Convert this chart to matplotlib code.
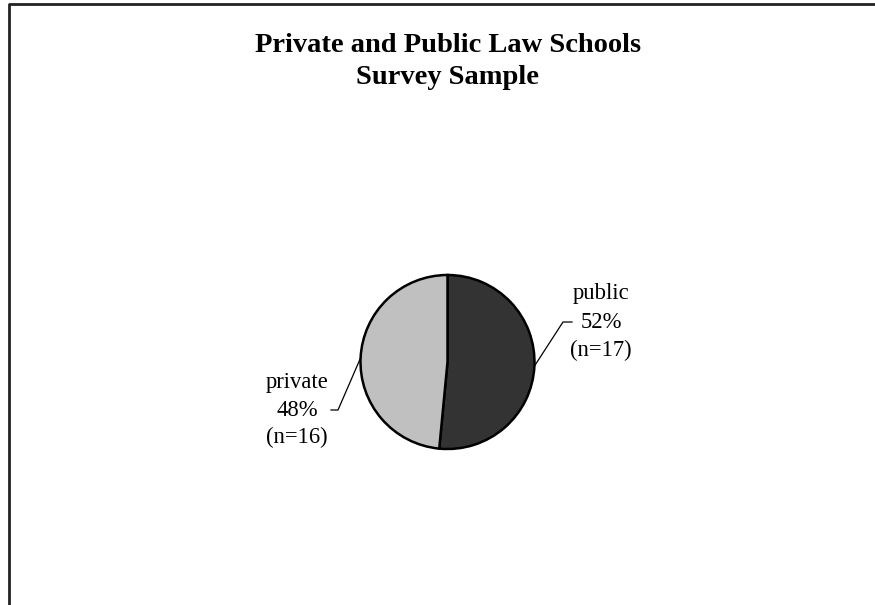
import numpy as np
import matplotlib
matplotlib.use("Agg")
import matplotlib.pyplot as plt

# ---- data ----
categories = ["public", "private"]
counts = [17, 16]
percent_labels = ["52%", "48%"]
title_lines = ["Private and Public Law Schools", "Survey Sample"]

# ---- style / layout ----
colors = ["#333333", "#C0C0C0"]
W, H = 875, 605
plt.rcParams["font.family"] = ["Liberation Serif", "DejaVu Serif"]

fig = plt.figure(figsize=(W / 100, H / 100), dpi=100)
ax = fig.add_axes([0, 0, 1, 1])

def py(y):  # pixel row -> data y
    return H - y

center = (447.5, py(362))
radius = 87
wedges, _ = ax.pie(counts, colors=colors, startangle=90, counterclock=False,
                   center=center, radius=radius, frame=True,
                   wedgeprops=dict(edgecolor="black", linewidth=1.8))
ax.set_xlim(0, W)
ax.set_ylim(0, H)
ax.axis("off")

# border (partial frame)
ax.plot([8.5, 8.5, W + 5], [-5, py(3.5), py(3.5)], color="#222222", lw=2,
        clip_on=False, solid_capstyle="butt")

# title
for i, line in enumerate(title_lines):
    ax.text(448, py(52 + 32 * i), line, ha="center", va="baseline",
            fontsize=20.5, fontweight="bold")

# labels with leader lines
label_layout = {
    "public": dict(x=601, base=299, step=28.5, elbow=(563, 322), end=(572, 322)),
    "private": dict(x=297, base=388, step=27.5, elbow=(338, 410), end=(331, 410)),
}
for w, cat, n, pct in zip(wedges, categories, counts, percent_labels):
    lay = label_layout[cat]
    lines = [cat, pct, f"(n={n})"]
    for i, t in enumerate(lines):
        ax.text(lay["x"], py(lay["base"] + lay["step"] * i), t, ha="center",
                va="baseline", fontsize=16.3)
    ang = np.deg2rad((w.theta1 + w.theta2) / 2)
    sx = center[0] + radius * np.cos(ang)
    sy = center[1] + radius * np.sin(ang)
    ex, ey = lay["elbow"]
    fx, fy = lay["end"]
    ax.plot([sx, ex, fx], [sy, py(ey), py(fy)], color="black", lw=0.9)

fig.savefig("out.png", dpi=100, facecolor="white")
